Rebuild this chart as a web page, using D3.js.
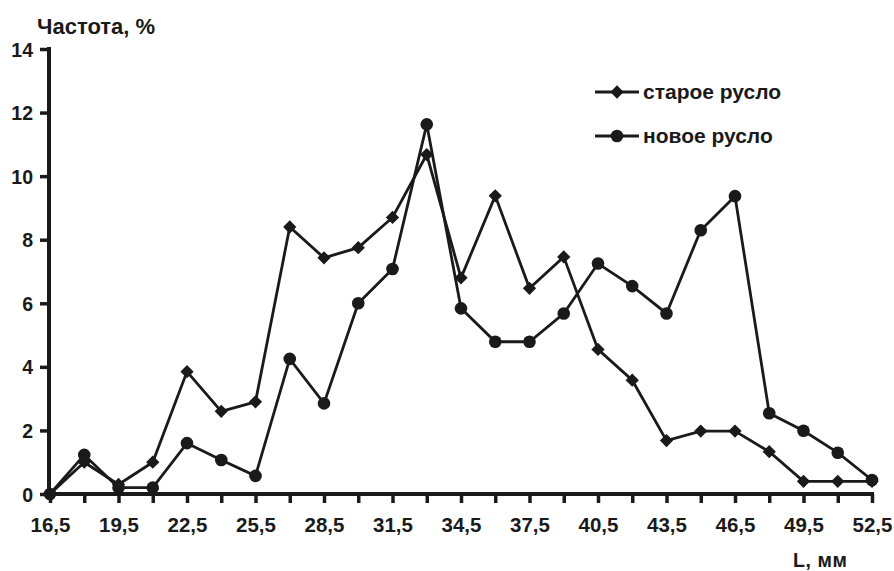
<!DOCTYPE html>
<html><head><meta charset="utf-8">
<script src="https://cdn.jsdelivr.net/npm/d3@7"></script>
<style>
body{margin:0;background:#fff;}
text{font-family:"Liberation Sans",Arial,sans-serif;font-weight:bold;fill:#1a1a1a;}
</style></head>
<body><svg id="c" width="894" height="571"></svg>
<script>
const lengths = [16.5,18,19.5,21,22.5,24,25.5,27,28.5,30,31.5,33,34.5,36,37.5,39,40.5,42,43.5,45,46.5,48,49.5,51,52.5];
const oldBed = [0,1.0,0.3,1.0,3.85,2.6,2.9,8.4,7.43,7.75,8.7,10.68,6.8,9.38,6.47,7.46,4.55,3.58,1.68,1.98,1.98,1.33,0.4,0.4,0.4];
const newBed = [0,1.23,0.2,0.2,1.6,1.07,0.57,4.25,2.85,6.0,7.08,11.63,5.84,4.79,4.79,5.68,7.25,6.54,5.68,8.3,9.37,2.54,1.99,1.3,0.44];
const xTickLabels = [16.5,19.5,22.5,25.5,28.5,31.5,34.5,37.5,40.5,43.5,46.5,49.5,52.5];
const yTickLabels = [0,2,4,6,8,10,12,14];
const seriesNames = ["старое русло","новое русло"];
const ink = "#1a1a1a";

const svg = d3.select("#c");
const x = d3.scaleLinear().domain([16.5,52.5]).range([50,872]);
const y = d3.scaleLinear().domain([0,14]).range([494,49]);
const fmt = v => String(v).replace(".", ",");

// axes
const xa = svg.append("g").attr("transform","translate(0,494)")
  .call(d3.axisBottom(x).tickValues(lengths).tickSize(9).tickFormat(d => xTickLabels.includes(d) ? fmt(d) : ""));
xa.select(".domain").attr("stroke",ink).attr("stroke-width",4).attr("d","M48,0H874");
xa.selectAll(".tick line").attr("stroke",ink).attr("stroke-width",3.5);
xa.selectAll(".tick text").attr("dy","0").attr("y",38).style("font-size","20.5px").attr("fill",ink);

const ya = svg.append("g").attr("transform","translate(49,0)")
  .call(d3.axisLeft(y).tickValues(yTickLabels).tickSize(9).tickPadding(7).tickFormat(d => d));
ya.select(".domain").attr("stroke",ink).attr("stroke-width",4).attr("d","M0,47V496");
ya.selectAll(".tick line").attr("stroke",ink).attr("stroke-width",3.5);
ya.selectAll(".tick text").style("font-size","19.5px").attr("fill",ink).attr("dy","0.36em");

// titles
svg.append("text").attr("x",37).attr("y",34).style("font-size","22px").text("Частота, %");
svg.append("text").attr("x",793).attr("y",567).style("font-size","19.5px").attr("letter-spacing","0.6px").text("L, мм");

const line = d3.line().x((d,i)=>x(lengths[i])).y(d=>y(d));
const diamond = d3.symbol().type(d3.symbolSquare).size(88);

function drawSeries(vals, kind){
  svg.append("path").attr("d",line(vals)).attr("fill","none").attr("stroke",ink).attr("stroke-width",2.8).attr("stroke-linejoin","miter");
  const g = svg.append("g");
  vals.forEach((v,i)=>{
    if(kind==="d"){
      g.append("path").attr("d",diamond()).attr("transform",`translate(${x(lengths[i])},${y(v)}) rotate(45)`).attr("fill",ink);
    } else {
      g.append("circle").attr("cx",x(lengths[i])).attr("cy",y(v)).attr("r",6.3).attr("fill",ink);
    }
  });
}
drawSeries(newBed,"c");
drawSeries(oldBed,"d");

// legend
const leg = svg.append("g");
[[92,"d",seriesNames[0]],[136,"c",seriesNames[1]]].forEach(([ly,k,name])=>{
  leg.append("line").attr("x1",595).attr("x2",639).attr("y1",ly).attr("y2",ly).attr("stroke",ink).attr("stroke-width",3);
  if(k==="d") leg.append("path").attr("d",diamond()).attr("transform",`translate(617,${ly}) rotate(45)`).attr("fill",ink);
  else leg.append("circle").attr("cx",617).attr("cy",ly).attr("r",6.3).attr("fill",ink);
  leg.append("text").attr("x",643).attr("y",ly+6.5).style("font-size","21px").text(name);
});
</script></body></html>
